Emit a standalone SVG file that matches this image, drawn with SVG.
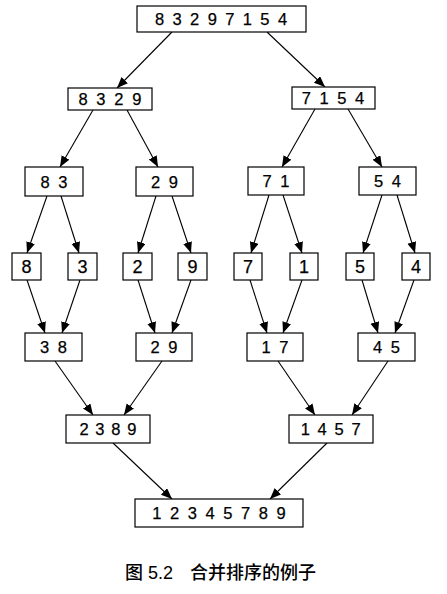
<svg xmlns="http://www.w3.org/2000/svg" width="447" height="594" viewBox="0 0 447 594">
<defs>
<marker id="ah" markerUnits="userSpaceOnUse" markerWidth="12" markerHeight="10" refX="11" refY="4.5" orient="auto">
<path d="M0,0 L11,4.5 L0,9 z" fill="#000"/>
</marker>
<style>
rect{fill:#fff;stroke:#000;stroke-width:1.2}
text.n{font-family:"Liberation Sans",Arial,sans-serif;font-size:16.5px;letter-spacing:1.9px;text-anchor:middle;fill:#000;stroke:#000;stroke-width:0.25}
text.s{font-size:18px;letter-spacing:0}
#edges line{stroke:#000;stroke-width:1.1;marker-end:url(#ah)}
text.cap{font-family:"Liberation Sans","Noto Sans CJK SC",sans-serif;font-size:18px;fill:#000}
tspan.zh{font-family:"Noto Sans CJK SC",sans-serif;font-weight:500}
</style>
</defs>
<rect x="0" y="0" width="447" height="594" style="fill:#fff;stroke:none"/>
<g id="edges">
<line x1="172" y1="32" x2="117" y2="88"/>
<line x1="267" y1="32" x2="325" y2="87"/>
<line x1="93" y1="110" x2="60" y2="167"/>
<line x1="127" y1="110" x2="158" y2="167"/>
<line x1="315" y1="109" x2="282" y2="167"/>
<line x1="348" y1="109" x2="382" y2="167"/>
<line x1="47" y1="196" x2="27" y2="253"/>
<line x1="61" y1="196" x2="79" y2="253"/>
<line x1="156" y1="196" x2="138" y2="253"/>
<line x1="172" y1="196" x2="191" y2="253"/>
<line x1="269" y1="195" x2="251" y2="253"/>
<line x1="283" y1="195" x2="302" y2="253"/>
<line x1="382" y1="195" x2="363" y2="253"/>
<line x1="397" y1="195" x2="415" y2="253"/>
<line x1="27" y1="280" x2="45" y2="333"/>
<line x1="80" y1="280" x2="62" y2="333"/>
<line x1="138" y1="280" x2="155" y2="333"/>
<line x1="191" y1="280" x2="172" y2="333"/>
<line x1="250" y1="280" x2="267" y2="333"/>
<line x1="302" y1="280" x2="283" y2="333"/>
<line x1="362" y1="280" x2="378" y2="333"/>
<line x1="414" y1="280" x2="395" y2="333"/>
<line x1="55" y1="361" x2="93" y2="415"/>
<line x1="162" y1="361" x2="124" y2="415"/>
<line x1="278" y1="361" x2="315" y2="415"/>
<line x1="388" y1="361" x2="352" y2="415"/>
<line x1="113" y1="443" x2="172" y2="499"/>
<line x1="327" y1="443" x2="270" y2="499"/>
</g>
<g id="n0"><rect x="137" y="6" width="169" height="26"/><text class="n" x="222" y="25">8 3 2 9 7 1 5 4</text></g>
<g id="n1"><rect x="68" y="88" width="84" height="22"/><text class="n" x="111" y="105" style="letter-spacing:2.1px">8 3 2 9</text></g>
<g id="n2"><rect x="292" y="87" width="83" height="22"/><text class="n" x="334" y="104" style="letter-spacing:2px">7 1 5 4</text></g>
<g id="n3"><rect x="25" y="167" width="58" height="29"/><text class="n" x="55" y="187.5" style="letter-spacing:2.1px">8 3</text></g>
<g id="n4"><rect x="136" y="167" width="57" height="29"/><text class="n" x="165.5" y="187.5" style="letter-spacing:2.1px">2 9</text></g>
<g id="n5"><rect x="248" y="167" width="56" height="28"/><text class="n" x="277" y="187" style="letter-spacing:2.1px">7 1</text></g>
<g id="n6"><rect x="359" y="167" width="57" height="28"/><text class="n" x="388.5" y="187" style="letter-spacing:2.1px">5 4</text></g>
<g id="n7"><rect x="12" y="253" width="29" height="27"/><text class="n s" x="26.5" y="273">8</text></g>
<g id="n8"><rect x="68" y="253" width="29" height="27"/><text class="n s" x="82.5" y="273">3</text></g>
<g id="n9"><rect x="123" y="253" width="29" height="27"/><text class="n s" x="137.5" y="273">2</text></g>
<g id="n10"><rect x="178" y="253" width="29" height="27"/><text class="n s" x="192.5" y="273">9</text></g>
<g id="n11"><rect x="234" y="253" width="28" height="27"/><text class="n s" x="248" y="273">7</text></g>
<g id="n12"><rect x="290" y="253" width="28" height="27"/><text class="n s" x="304" y="273">1</text></g>
<g id="n13"><rect x="346" y="253" width="28" height="27"/><text class="n s" x="360" y="273">5</text></g>
<g id="n14"><rect x="402" y="253" width="28" height="27"/><text class="n s" x="416" y="273">4</text></g>
<g id="n15"><rect x="25" y="333" width="57" height="28"/><text class="n" x="54.5" y="353" style="letter-spacing:2.1px">3 8</text></g>
<g id="n16"><rect x="136" y="333" width="56" height="28"/><text class="n" x="165" y="353" style="letter-spacing:2.1px">2 9</text></g>
<g id="n17"><rect x="247" y="333" width="56" height="28"/><text class="n" x="276" y="353" style="letter-spacing:2.1px">1 7</text></g>
<g id="n18"><rect x="358" y="333" width="57" height="28"/><text class="n" x="387.5" y="353" style="letter-spacing:2.1px">4 5</text></g>
<g id="n19"><rect x="66" y="415" width="84" height="28"/><text class="n" x="108.5" y="435" style="letter-spacing:1.1px">2 3 8 9</text></g>
<g id="n20"><rect x="289" y="415" width="84" height="28"/><text class="n" x="331.5" y="435" style="letter-spacing:1.6px">1 4 5 7</text></g>
<g id="n21"><rect x="135" y="499" width="168" height="28"/><text class="n" x="220" y="519" style="letter-spacing:2px">1 2 3 4 5 7 8 9</text></g>
<text class="cap" x="125" y="579"><tspan class="zh">图</tspan> 5.2<tspan class="zh" x="190">合并排序的例子</tspan></text>
</svg>
